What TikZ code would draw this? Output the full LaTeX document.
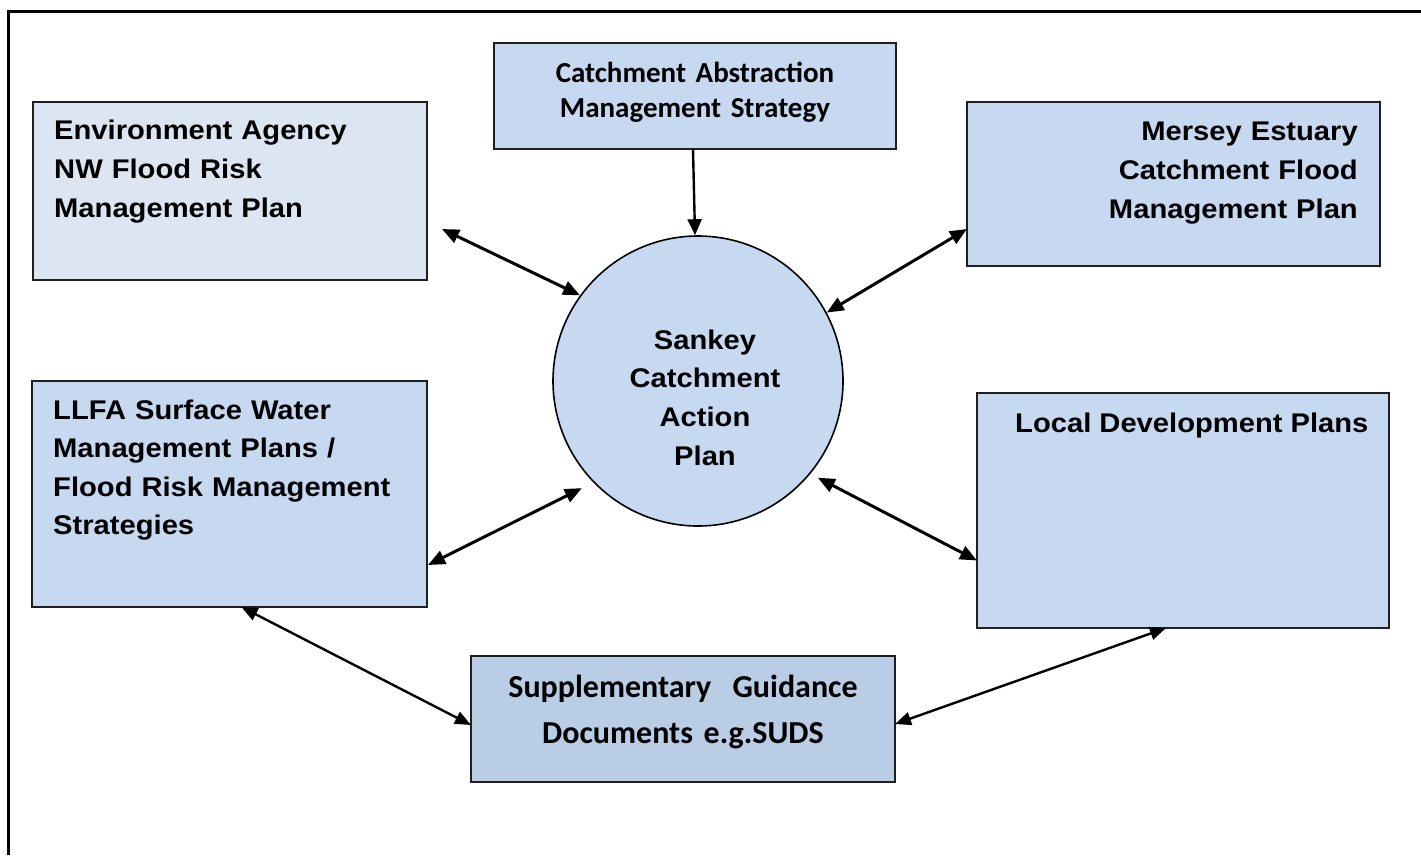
\documentclass[tikz,border=0pt]{standalone}
\usepackage{fontspec}
\setmainfont{Liberation Sans}
\newfontfamily\arialfont[FakeStretch=1.08]{Liberation Sans}
\newfontfamily\califont{Carlito}
\usetikzlibrary{arrows.meta,calc}
\definecolor{boxA}{HTML}{C6D9F1}
\definecolor{boxB}{HTML}{DCE6F2}
\definecolor{boxC}{HTML}{B9CDE5}
\definecolor{edgec}{HTML}{1F1F1F}
\begin{document}
\begin{tikzpicture}[x=1pt,y=-1pt,
  box/.style={draw=edgec, line width=1.6pt, inner sep=0pt, outer sep=0pt, anchor=north west},
  atext/.style={font=\arialfont\bfseries\fontsize{27}{39}\selectfont, inner sep=0pt},
  ctext/.style={font=\califont\bfseries\fontsize{29}{35}\selectfont, inner sep=0pt},
  dbl/.style={{Triangle[length=17pt,width=14pt]}-{Triangle[length=17pt,width=14pt]}, line width=3pt},
  dblthin/.style={{Triangle[length=16pt,width=13pt]}-{Triangle[length=16pt,width=13pt]}, line width=2.4pt},
  one/.style={-{Triangle[length=16pt,width=14pt]}, line width=2.4pt}
]
\useasboundingbox (0,0) rectangle (1421,855);
% outer frame
\draw[line width=3pt] (8.5,855) -- (8.5,11) -- (1421,11);

% boxes
\node[box, fill=boxB, minimum width=394pt, minimum height=178pt] (ea) at (33,102) {};
\node[box, fill=boxA, minimum width=402pt, minimum height=106pt] (ca) at (494,43) {};
\node[box, fill=boxA, minimum width=413pt, minimum height=164pt] (ms) at (967,102) {};
\node[box, fill=boxA, minimum width=395pt, minimum height=226pt] (ll) at (32,381) {};
\node[box, fill=boxA, minimum width=412pt, minimum height=235pt] (ld) at (977,393) {};
\node[box, fill=boxC, minimum width=424pt, minimum height=126pt] (sg) at (471,656) {};
\node[circle, draw=black, line width=1.6pt, fill=boxA, minimum size=290pt, inner sep=0pt] (c) at (698,381) {};

% texts
\node[atext, text width=360pt, align=left, anchor=base west] (eat) at (54,139)
  {Environment Agency\\NW Flood Risk\\Management Plan};
\node[atext, text width=360pt, align=right, anchor=base east] (mst) at (1358,140)
  {Mersey Estuary\\Catchment Flood\\Management Plan};
\node[atext, font=\arialfont\bfseries\fontsize{27}{38.5}\selectfont, text width=370pt, align=left, anchor=base west] (llt) at (53,419)
  {LLFA Surface Water\\Management Plans /\\Flood Risk Management\\Strategies};
\node[atext, anchor=base west] (ldt) at (1015,432) {Local Development Plans};
\node[atext, font=\arialfont\bfseries\fontsize{27}{38.7}\selectfont, text width=220pt, align=center, anchor=base] (ct) at (705,349)
  {Sankey\\Catchment\\Action\\Plan};
\node[ctext, text width=380pt, align=center, anchor=base] (cat) at (695,82)
  {Catchment Abstraction\\Management Strategy};
\node[ctext, font=\califont\bfseries\fontsize{32}{46}\selectfont, text width=400pt, align=center, anchor=base] (sgt) at (683,697)
  {Supplementary\ \ Guidance\\Documents e.g.SUDS};

% connectors
\draw[one] ([xshift=-2pt]ca.south) -- ([xshift=-3pt]c.north);
\draw[dbl] ([shift={(15,38)}]ea.east) -- (c.144);
\draw[dbl] ([shift={(0,45)}]ms.west) -- (c.28);
\draw[dbl] ([shift={(1,71)}]ll.east) -- ($(c.center)+(222.7:158pt)$);
\draw[dbl] ([shift={(0,50)}]ld.west) -- ($(c.center)+(321.1:154pt)$);
\draw[dblthin] ([shift={(12,0)}]ll.south) -- ([shift={(0,6)}]sg.west);
\draw[dblthin] ([shift={(-17,0)}]ld.south) -- ([shift={(0,5)}]sg.east);
\end{tikzpicture}
\end{document}
